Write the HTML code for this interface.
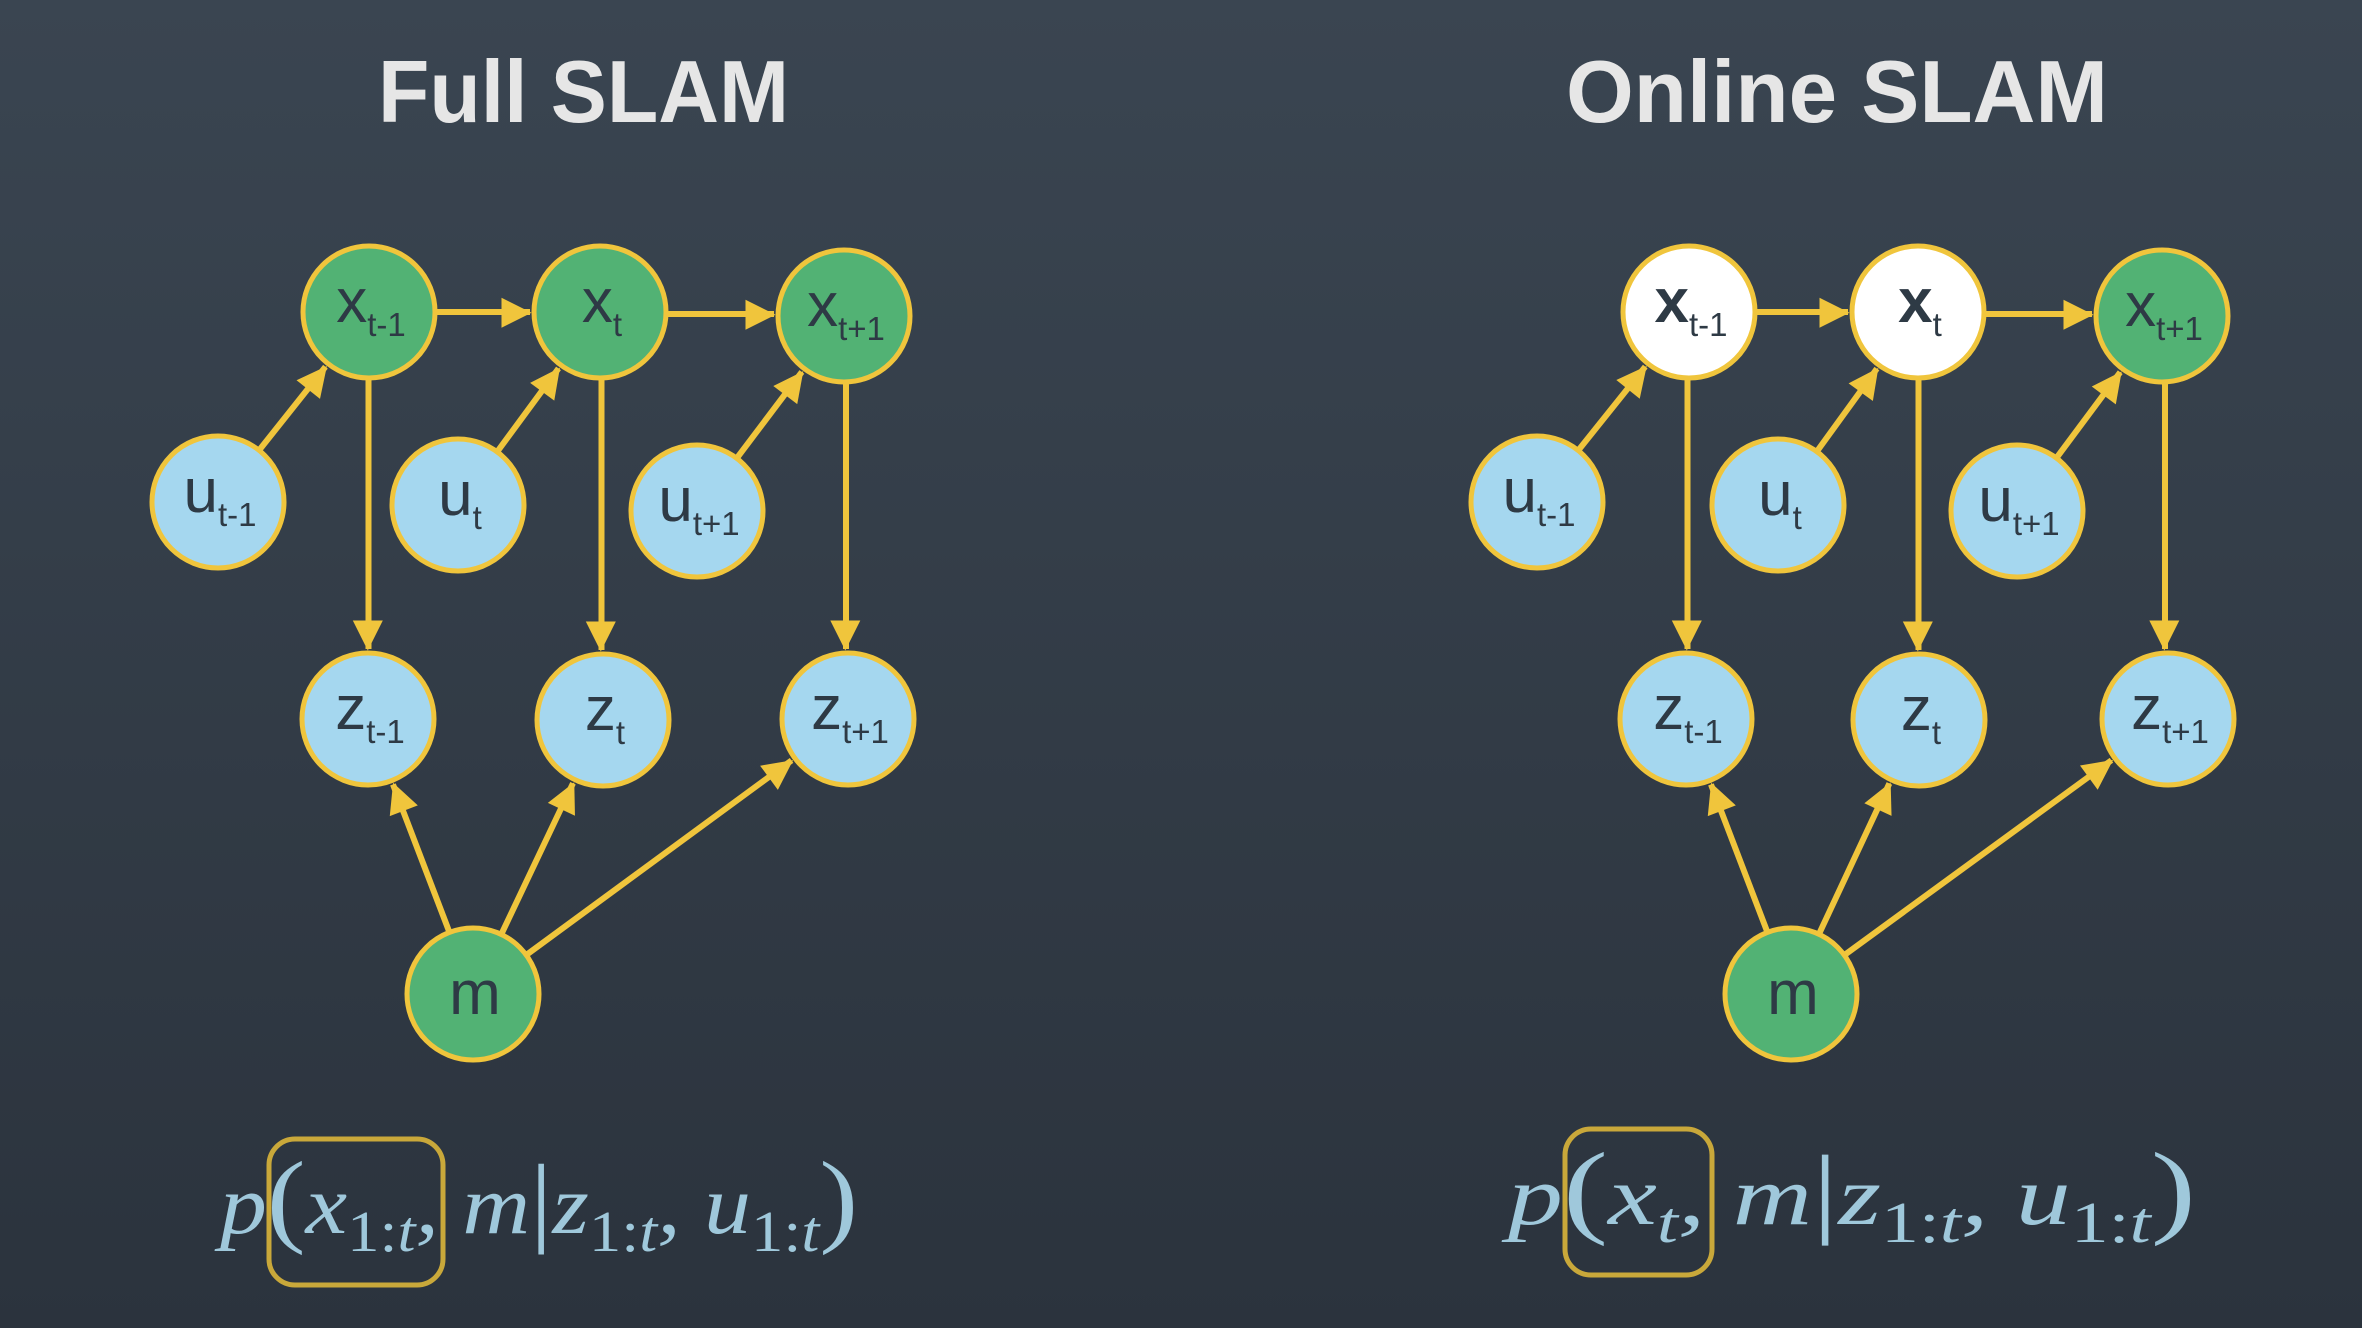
<!DOCTYPE html>
<html><head><meta charset="utf-8">
<style>
html,body{margin:0;padding:0;}
body{width:2362px;height:1328px;overflow:hidden;background:linear-gradient(#3a4551,#2b333d);}
svg{position:absolute;left:0;top:0;}
</style></head>
<body>
<svg id="s" width="2362" height="1328" viewBox="0 0 2362 1328" xmlns="http://www.w3.org/2000/svg">
<defs>
<marker id="ah" markerWidth="10" markerHeight="10" refX="9" refY="5" orient="auto" markerUnits="userSpaceOnUse" viewBox="0 0 10 10" style="overflow:visible">
<path d="M0,0 L10,5 L0,10 z" fill="#f0c53c" transform="scale(3) translate(-6.5,-3.1)"/>
</marker>
</defs>
<text x="378" y="122" textLength="411" lengthAdjust="spacingAndGlyphs" font-family="Liberation Sans, sans-serif" font-size="88" font-weight="bold" fill="#e6e6e6">Full SLAM</text>
<text x="1566" y="122" textLength="542" lengthAdjust="spacingAndGlyphs" font-family="Liberation Sans, sans-serif" font-size="88" font-weight="bold" fill="#e6e6e6">Online SLAM</text>
<g id="edges"></g>
<g id="nodes"></g>
<g font-family="Liberation Serif, serif" font-style="italic" fill="#9fc8db">
<text x="220" y="1233" font-size="84" textLength="638" lengthAdjust="spacingAndGlyphs">p<tspan font-style="normal" font-size="104">(</tspan>x<tspan font-style="normal" font-size="58" dy="18">1:</tspan><tspan font-size="58">t</tspan><tspan dy="-18">, m</tspan><tspan font-style="normal" font-size="100">|</tspan>z<tspan font-style="normal" font-size="58" dy="18">1:</tspan><tspan font-size="58">t</tspan><tspan dy="-18">, u</tspan><tspan font-style="normal" font-size="58" dy="18">1:</tspan><tspan font-size="58">t</tspan><tspan dy="-18" font-style="normal" font-size="104">)</tspan></text>
<text x="1508" y="1224" font-size="84" textLength="688" lengthAdjust="spacingAndGlyphs">p<tspan font-style="normal" font-size="104">(</tspan>x<tspan font-size="58" dy="18">t</tspan><tspan dy="-18">, m</tspan><tspan font-style="normal" font-size="100">|</tspan>z<tspan font-style="normal" font-size="58" dy="18">1:</tspan><tspan font-size="58">t</tspan><tspan dy="-18">, u</tspan><tspan font-style="normal" font-size="58" dy="18">1:</tspan><tspan font-size="58">t</tspan><tspan dy="-18" font-style="normal" font-size="104">)</tspan></text>
</g>
<rect x="269" y="1139" width="174" height="146" rx="26" fill="none" stroke="#c9a83a" stroke-width="5"/>
<rect x="1565" y="1129" width="147" height="146" rx="26" fill="none" stroke="#c9a83a" stroke-width="5"/>
</svg>
<script>
var NS="http://www.w3.org/2000/svg";
var R=66;
function panel(P,white){
 var N={
  x0:[P.x[0],312,'x','t-1',white?'#fff':'#52b274'],
  x1:[P.x[1],312,'x','t',white?'#fff':'#52b274'],
  x2:[P.x[2],316,'x','t+1','#52b274'],
  u0:[P.u[0],502,'u','t-1','#a5d7ef'],
  u1:[P.u[1],505,'u','t','#a5d7ef'],
  u2:[P.u[2],511,'u','t+1','#a5d7ef'],
  z0:[P.z[0],719,'z','t-1','#a5d7ef'],
  z1:[P.z[1],720,'z','t','#a5d7ef'],
  z2:[P.z[2],719,'z','t+1','#a5d7ef'],
  m:[P.m,994,'m','','#52b274']
 };
 var E=[['u0','x0'],['u1','x1'],['u2','x2'],['x0','x1'],['x1','x2'],['x0','z0'],['x1','z1'],['x2','z2'],['m','z0'],['m','z1'],['m','z2']];
 var eg=document.getElementById('edges'),ng=document.getElementById('nodes');
 E.forEach(function(e){
  var a=N[e[0]],b=N[e[1]];
  var ax=a[0],ay=a[1],bx=b[0],by=b[1];
  if(e[0][0]=='x'&&e[1][0]=='x'){ay=by=(ay+by)/2;}
  if(e[0][0]=='x'&&e[1][0]=='z'){ax=bx=(ax+bx)/2;}
  var dx=bx-ax,dy=by-ay,L=Math.hypot(dx,dy);
  var ux=dx/L,uy=dy/L;
  var l=document.createElementNS(NS,'line');
  l.setAttribute('x1',ax+ux*(R+2));l.setAttribute('y1',ay+uy*(R+2));
  l.setAttribute('x2',bx-ux*(R+4));l.setAttribute('y2',by-uy*(R+4));
  l.setAttribute('stroke','#f0c53c');l.setAttribute('stroke-width','6');
  l.setAttribute('marker-end','url(#ah)');eg.appendChild(l);
 });
 for(var k in N){var n=N[k];
  var c=document.createElementNS(NS,'circle');
  c.setAttribute('cx',n[0]);c.setAttribute('cy',n[1]);c.setAttribute('r',R);
  c.setAttribute('fill',n[4]);c.setAttribute('stroke','#f0c53c');c.setAttribute('stroke-width','5');ng.appendChild(c);
  var t=document.createElementNS(NS,'text');
  var bold=(n[4]=='#fff');
  t.setAttribute('font-family','Liberation Sans, sans-serif');
  t.setAttribute('fill','#2e3a45');
  if(bold)t.setAttribute('font-weight','bold');
  t.setAttribute('x',n[0]+2);
  t.setAttribute('y',n[1]+(k=='m'?20:10));
  t.setAttribute('text-anchor','middle');
  t.setAttribute('font-size','62');
  t.textContent=n[2];
  if(n[3]){var s=document.createElementNS(NS,'tspan');s.setAttribute('font-size','33');s.setAttribute('dy','14');s.setAttribute('font-weight','normal');s.textContent=n[3];t.appendChild(s);}
  ng.appendChild(t);
 }
}
panel({x:[369,600,844],u:[218,458,697],z:[368,603,848],m:473},false);
panel({x:[1689,1918,2162],u:[1537,1778,2017],z:[1686,1919,2168],m:1791},true);
</script>
</body></html>
